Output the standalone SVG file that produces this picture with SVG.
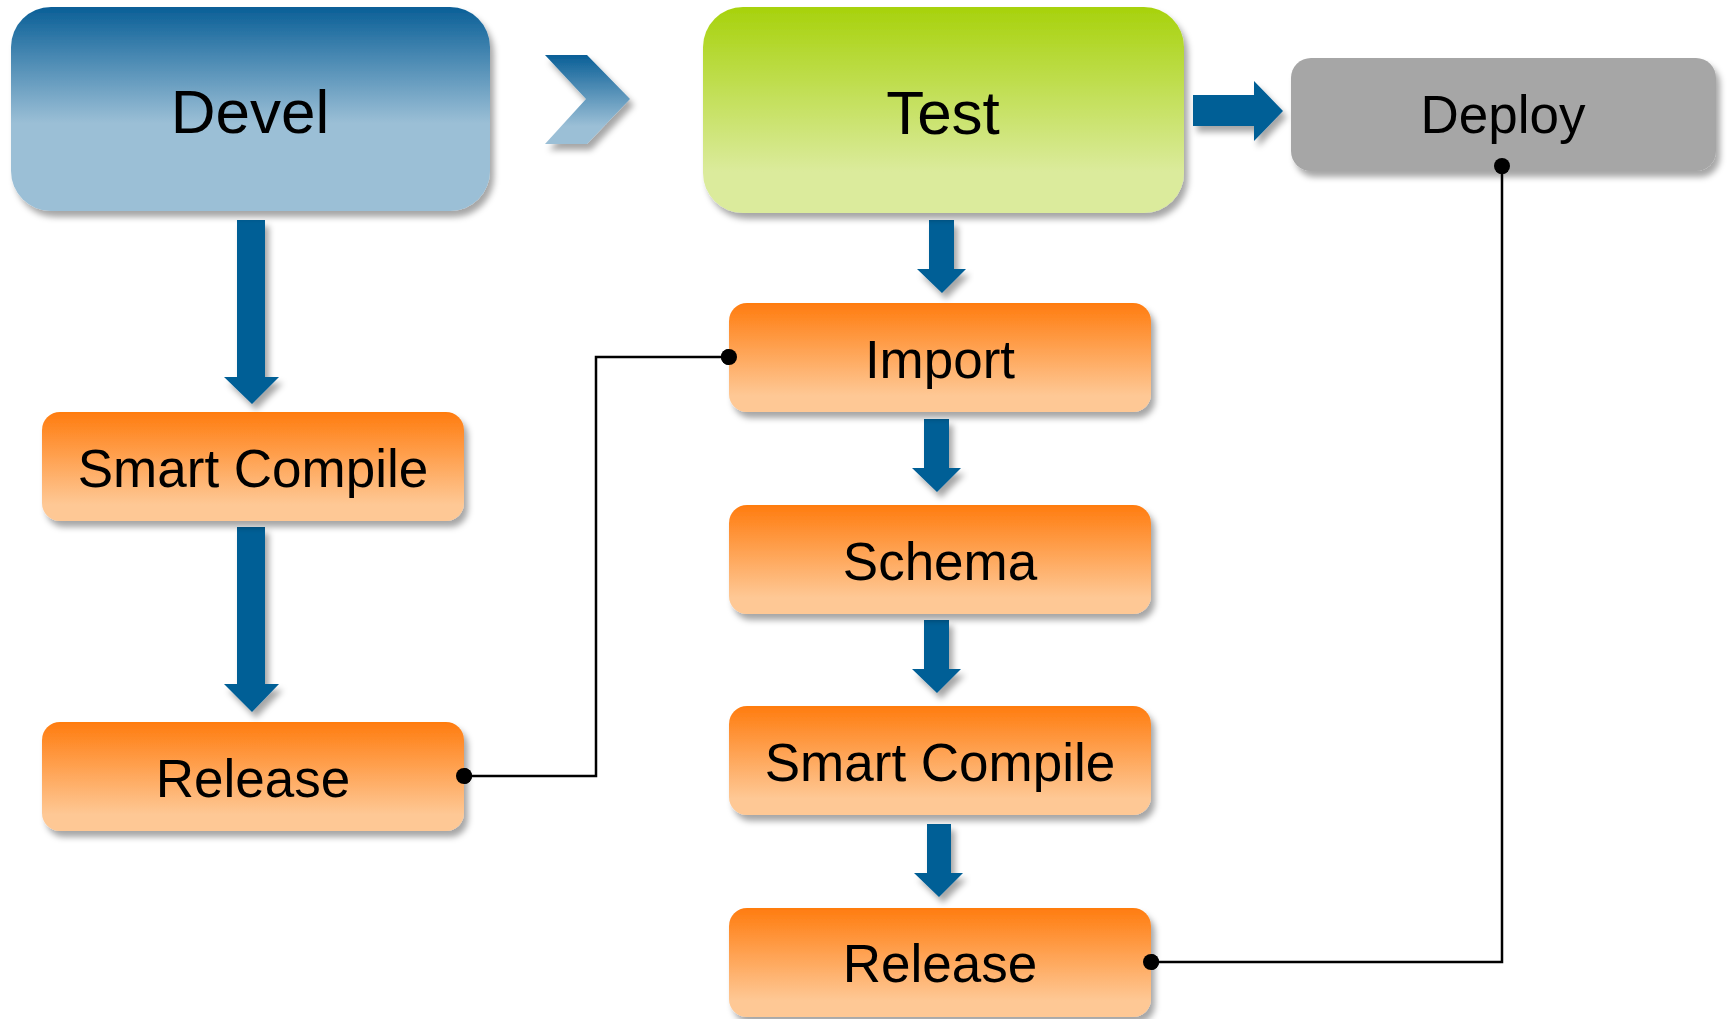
<svg xmlns="http://www.w3.org/2000/svg" width="1727" height="1019" viewBox="0 0 1727 1019">
<defs>
<linearGradient id="gBlue" x1="0" y1="0" x2="0" y2="1">
<stop offset="0" stop-color="#0A5F97"/><stop offset="0.57" stop-color="#9BBFD6"/><stop offset="1" stop-color="#9BBFD6"/>
</linearGradient>
<linearGradient id="gGreen" x1="0" y1="0" x2="0" y2="1">
<stop offset="0" stop-color="#A7D20C"/><stop offset="0.8" stop-color="#DBEB9C"/><stop offset="1" stop-color="#DBEB9C"/>
</linearGradient>
<linearGradient id="gOrange" x1="0" y1="0" x2="0" y2="1">
<stop offset="0" stop-color="#FF7C0F"/><stop offset="0.85" stop-color="#FEC895"/><stop offset="1" stop-color="#FEC895"/>
</linearGradient>
<linearGradient id="gChev" x1="0" y1="0" x2="0" y2="1">
<stop offset="0" stop-color="#0A5F97"/><stop offset="0.8" stop-color="#9BBFD6"/><stop offset="1" stop-color="#9BBFD6"/>
</linearGradient>
<filter id="sh" x="-10%" y="-10%" width="125%" height="130%">
<feDropShadow dx="4" dy="6" stdDeviation="3" flood-color="#000" flood-opacity="0.35"/>
</filter>
<marker id="dot" markerWidth="20" markerHeight="20" refX="10" refY="10" markerUnits="userSpaceOnUse">
<circle cx="10" cy="10" r="8" fill="#000"/>
</marker>
</defs>
<style>
text{font-family:"Liberation Sans",Arial,sans-serif;fill:#000;text-anchor:middle}
.big{font-size:62px}
.mid{font-size:53px}
.orange{fill:url(#gOrange);filter:url(#sh)}
.arrow{fill:#005E96;filter:url(#sh)}
.conn{fill:none;stroke:#000;stroke-width:2.5;marker-start:url(#dot);marker-end:url(#dot)}
</style>
<rect width="1727" height="1019" fill="#fff"/>

<g id="connectors">
<path class="arrow" d="M237,220 H265 V377 H279 L252,404 L224,377 H237 Z"/>
<path class="arrow" d="M237,527 H265 V684 H279 L252,712 L224,684 H237 Z"/>
<path class="arrow" d="M929,220 H954 V269 H966 L942,293 L917,269 H929 Z"/>
<path class="arrow" d="M924,419 H949 V468 H961 L937,492 L912,468 H924 Z"/>
<path class="arrow" d="M924,620 H949 V669 H961 L937,693 L912,669 H924 Z"/>
<path class="arrow" d="M927,824 H951 V873 H963 L939,897 L914,873 H927 Z"/>
<path class="arrow" d="M1193,95 H1254 V81 L1283,111 L1254,141 V126 H1193 Z"/>
<path id="chevron" d="M545,55 H587 L630,99 L587,144 H545 L586,99 Z" fill="url(#gChev)" filter="url(#sh)"/>
<path class="conn" d="M464,776 H596 V357 H729"/>
<path class="conn" d="M1151,962 H1502 V166"/>
</g>

<g id="devel">
<rect x="11" y="7" width="479" height="204" rx="40" fill="url(#gBlue)" filter="url(#sh)"/>
<text class="big" x="250" y="133">Devel</text>
</g>
<g id="test">
<rect x="703" y="7" width="481" height="206" rx="40" fill="url(#gGreen)" filter="url(#sh)"/>
<text class="big" x="943" y="134">Test</text>
</g>
<g id="deploy">
<rect x="1291" y="58" width="425" height="113" rx="20" fill="#A6A6A6" filter="url(#sh)"/>
<text class="mid" x="1503" y="133">Deploy</text>
</g>
<g id="smart-compile-devel">
<rect class="orange" x="42" y="412" width="422" height="109" rx="18"/>
<text class="mid" x="253" y="487">Smart Compile</text>
</g>
<g id="release-devel">
<rect class="orange" x="42" y="722" width="422" height="109" rx="18"/>
<text class="mid" x="253" y="797">Release</text>
</g>
<g id="import">
<rect class="orange" x="729" y="303" width="422" height="109" rx="18"/>
<text class="mid" x="940" y="378">Import</text>
</g>
<g id="schema">
<rect class="orange" x="729" y="505" width="422" height="109" rx="18"/>
<text class="mid" x="940" y="580">Schema</text>
</g>
<g id="smart-compile-test">
<rect class="orange" x="729" y="706" width="422" height="109" rx="18"/>
<text class="mid" x="940" y="781">Smart Compile</text>
</g>
<g id="release-test">
<rect class="orange" x="729" y="908" width="422" height="109" rx="18"/>
<text class="mid" x="940" y="982">Release</text>
</g>
<g id="dots">
<circle cx="464" cy="776" r="8"/>
<circle cx="729" cy="357" r="8"/>
<circle cx="1151" cy="962" r="8"/>
<circle cx="1502" cy="166" r="8"/>
</g>
</svg>
